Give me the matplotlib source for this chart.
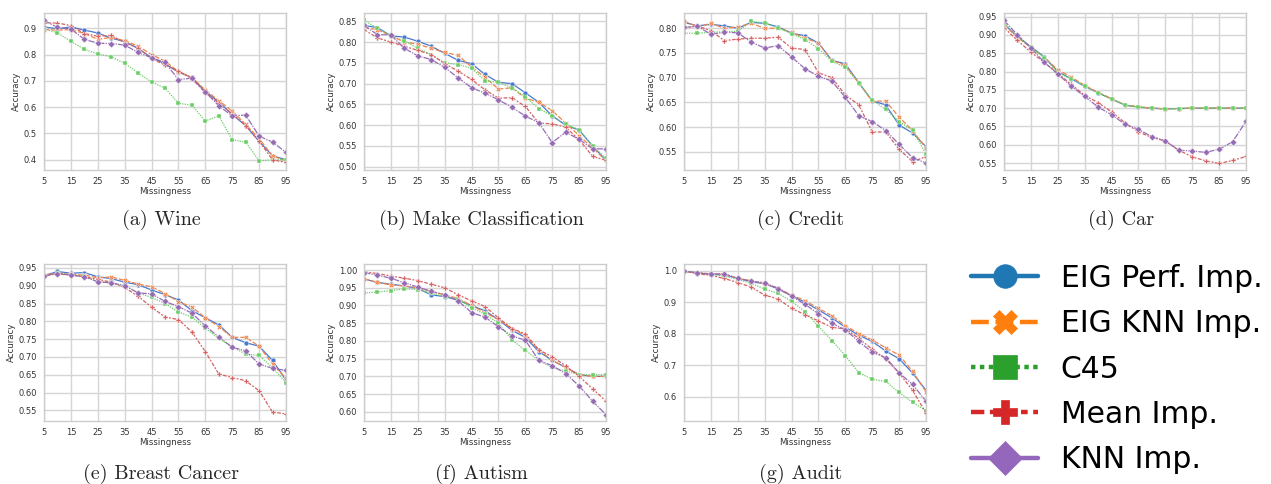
import matplotlib
matplotlib.use("Agg")
import matplotlib.pyplot as plt
from matplotlib.lines import Line2D
import seaborn as sns

sns.set_style("whitegrid")

missingness = [5, 10, 15, 20, 25, 30, 35, 40, 45, 50, 55, 60, 65, 70, 75, 80, 85, 90, 95]
methods = ["EIG Perf. Imp.", "EIG KNN Imp.", "C45", "Mean Imp.", "KNN Imp."]

wine = {
    "EIG Perf. Imp.": [0.905, 0.898, 0.905, 0.893, 0.882, 0.862, 0.850, 0.823, 0.788, 0.765, 0.733, 0.713, 0.660, 0.620, 0.572, 0.530, 0.470, 0.415, 0.400],
    "EIG KNN Imp.": [0.895, 0.893, 0.895, 0.880, 0.858, 0.865, 0.853, 0.832, 0.800, 0.775, 0.735, 0.713, 0.665, 0.625, 0.585, 0.535, 0.480, 0.415, 0.395],
    "C45": [0.897, 0.883, 0.850, 0.820, 0.802, 0.792, 0.767, 0.730, 0.696, 0.672, 0.615, 0.607, 0.547, 0.567, 0.476, 0.467, 0.396, 0.400, 0.400],
    "Mean Imp.": [0.920, 0.920, 0.910, 0.880, 0.870, 0.873, 0.845, 0.825, 0.785, 0.760, 0.738, 0.708, 0.655, 0.615, 0.575, 0.530, 0.470, 0.400, 0.390],
    "KNN Imp.": [0.930, 0.903, 0.897, 0.858, 0.843, 0.842, 0.836, 0.808, 0.788, 0.770, 0.705, 0.710, 0.658, 0.605, 0.567, 0.570, 0.490, 0.467, 0.428],
}
make_classification = {
    "EIG Perf. Imp.": [0.840, 0.835, 0.815, 0.812, 0.802, 0.790, 0.773, 0.756, 0.748, 0.722, 0.703, 0.700, 0.678, 0.655, 0.622, 0.600, 0.588, 0.550, 0.515],
    "EIG KNN Imp.": [0.835, 0.830, 0.815, 0.800, 0.795, 0.785, 0.775, 0.768, 0.740, 0.715, 0.687, 0.690, 0.665, 0.655, 0.635, 0.605, 0.575, 0.545, 0.515],
    "C45": [0.853, 0.833, 0.815, 0.803, 0.785, 0.770, 0.750, 0.746, 0.737, 0.707, 0.703, 0.690, 0.668, 0.640, 0.622, 0.602, 0.589, 0.550, 0.520],
    "Mean Imp.": [0.830, 0.810, 0.800, 0.790, 0.780, 0.770, 0.748, 0.730, 0.710, 0.685, 0.665, 0.666, 0.645, 0.605, 0.603, 0.595, 0.565, 0.525, 0.515],
    "KNN Imp.": [0.840, 0.818, 0.817, 0.785, 0.767, 0.758, 0.739, 0.714, 0.690, 0.677, 0.661, 0.643, 0.622, 0.606, 0.558, 0.583, 0.566, 0.543, 0.543],
}
credit = {
    "EIG Perf. Imp.": [0.812, 0.805, 0.808, 0.805, 0.800, 0.812, 0.810, 0.803, 0.790, 0.785, 0.770, 0.735, 0.728, 0.690, 0.653, 0.645, 0.604, 0.588, 0.560],
    "EIG KNN Imp.": [0.815, 0.803, 0.810, 0.800, 0.803, 0.810, 0.800, 0.800, 0.792, 0.780, 0.770, 0.735, 0.725, 0.690, 0.652, 0.653, 0.620, 0.593, 0.557],
    "C45": [0.790, 0.790, 0.792, 0.793, 0.794, 0.814, 0.811, 0.801, 0.789, 0.777, 0.759, 0.733, 0.721, 0.689, 0.654, 0.636, 0.611, 0.594, 0.545],
    "Mean Imp.": [0.800, 0.805, 0.795, 0.775, 0.778, 0.780, 0.780, 0.782, 0.760, 0.757, 0.710, 0.700, 0.665, 0.645, 0.590, 0.590, 0.555, 0.530, 0.540],
    "KNN Imp.": [0.802, 0.804, 0.788, 0.792, 0.791, 0.772, 0.760, 0.765, 0.742, 0.718, 0.703, 0.693, 0.660, 0.623, 0.611, 0.593, 0.565, 0.538, 0.527],
}
car = {
    "EIG Perf. Imp.": [0.930, 0.895, 0.868, 0.840, 0.800, 0.780, 0.760, 0.742, 0.725, 0.708, 0.703, 0.700, 0.698, 0.699, 0.700, 0.700, 0.700, 0.700, 0.700],
    "EIG KNN Imp.": [0.928, 0.893, 0.866, 0.838, 0.805, 0.785, 0.762, 0.743, 0.726, 0.709, 0.704, 0.700, 0.698, 0.699, 0.700, 0.700, 0.700, 0.700, 0.700],
    "C45": [0.932, 0.897, 0.866, 0.838, 0.797, 0.780, 0.760, 0.742, 0.725, 0.708, 0.703, 0.700, 0.698, 0.699, 0.700, 0.700, 0.700, 0.700, 0.700],
    "Mean Imp.": [0.920, 0.885, 0.853, 0.825, 0.795, 0.765, 0.735, 0.715, 0.690, 0.660, 0.635, 0.620, 0.610, 0.585, 0.567, 0.556, 0.549, 0.557, 0.568],
    "KNN Imp.": [0.940, 0.900, 0.865, 0.825, 0.793, 0.760, 0.732, 0.703, 0.682, 0.656, 0.642, 0.622, 0.611, 0.585, 0.583, 0.579, 0.588, 0.608, 0.664],
}
breast_cancer = {
    "EIG Perf. Imp.": [0.928, 0.940, 0.935, 0.937, 0.925, 0.920, 0.910, 0.903, 0.888, 0.875, 0.860, 0.830, 0.810, 0.790, 0.755, 0.740, 0.730, 0.690, 0.635],
    "EIG KNN Imp.": [0.930, 0.935, 0.932, 0.930, 0.922, 0.925, 0.915, 0.905, 0.897, 0.878, 0.855, 0.840, 0.810, 0.785, 0.755, 0.755, 0.730, 0.680, 0.640],
    "C45": [0.928, 0.935, 0.930, 0.927, 0.912, 0.908, 0.900, 0.880, 0.867, 0.850, 0.826, 0.812, 0.780, 0.752, 0.728, 0.708, 0.704, 0.670, 0.628],
    "Mean Imp.": [0.930, 0.933, 0.930, 0.925, 0.918, 0.910, 0.895, 0.870, 0.840, 0.812, 0.805, 0.770, 0.715, 0.652, 0.642, 0.633, 0.605, 0.545, 0.540],
    "KNN Imp.": [0.927, 0.934, 0.930, 0.925, 0.911, 0.908, 0.900, 0.880, 0.877, 0.856, 0.841, 0.823, 0.787, 0.756, 0.727, 0.717, 0.680, 0.668, 0.662],
}
autism = {
    "EIG Perf. Imp.": [0.975, 0.965, 0.960, 0.955, 0.948, 0.930, 0.925, 0.915, 0.900, 0.885, 0.860, 0.830, 0.810, 0.770, 0.745, 0.725, 0.705, 0.700, 0.700],
    "EIG KNN Imp.": [0.975, 0.965, 0.958, 0.955, 0.950, 0.940, 0.930, 0.920, 0.900, 0.880, 0.860, 0.835, 0.815, 0.775, 0.745, 0.725, 0.705, 0.700, 0.700],
    "C45": [0.935, 0.938, 0.942, 0.947, 0.945, 0.935, 0.925, 0.918, 0.894, 0.875, 0.850, 0.803, 0.773, 0.745, 0.725, 0.715, 0.705, 0.705, 0.705],
    "Mean Imp.": [0.995, 0.990, 0.983, 0.977, 0.970, 0.960, 0.950, 0.930, 0.913, 0.897, 0.865, 0.835, 0.820, 0.775, 0.755, 0.730, 0.700, 0.665, 0.630],
    "KNN Imp.": [0.993, 0.985, 0.977, 0.964, 0.952, 0.940, 0.930, 0.913, 0.880, 0.867, 0.840, 0.814, 0.802, 0.745, 0.730, 0.708, 0.673, 0.630, 0.592],
}
audit = {
    "EIG Perf. Imp.": [0.998, 0.993, 0.988, 0.987, 0.975, 0.965, 0.958, 0.942, 0.920, 0.900, 0.875, 0.850, 0.820, 0.795, 0.775, 0.745, 0.720, 0.675, 0.620],
    "EIG KNN Imp.": [0.998, 0.993, 0.990, 0.988, 0.975, 0.968, 0.958, 0.945, 0.922, 0.905, 0.880, 0.857, 0.825, 0.800, 0.780, 0.755, 0.732, 0.680, 0.615],
    "C45": [0.998, 0.993, 0.988, 0.983, 0.972, 0.960, 0.941, 0.928, 0.902, 0.870, 0.823, 0.778, 0.730, 0.676, 0.655, 0.648, 0.613, 0.582, 0.555],
    "Mean Imp.": [0.998, 0.990, 0.985, 0.975, 0.962, 0.948, 0.922, 0.910, 0.880, 0.860, 0.840, 0.820, 0.815, 0.785, 0.750, 0.720, 0.675, 0.620, 0.548],
    "KNN Imp.": [0.998, 0.993, 0.989, 0.990, 0.976, 0.966, 0.962, 0.943, 0.919, 0.893, 0.863, 0.833, 0.812, 0.775, 0.741, 0.724, 0.675, 0.639, 0.585],
}

panels = [
    ("(a) Wine", wine, (0.361, 0.958), [0.4, 0.5, 0.6, 0.7, 0.8, 0.9]),
    ("(b) Make Classification", make_classification, (0.492, 0.870), [0.50, 0.55, 0.60, 0.65, 0.70, 0.75, 0.80, 0.85]),
    ("(c) Credit", credit, (0.513, 0.831), [0.55, 0.60, 0.65, 0.70, 0.75, 0.80]),
    ("(d) Car", car, (0.531, 0.960), [0.55, 0.60, 0.65, 0.70, 0.75, 0.80, 0.85, 0.90, 0.95]),
    ("(e) Breast Cancer", breast_cancer, (0.520, 0.961), [0.55, 0.60, 0.65, 0.70, 0.75, 0.80, 0.85, 0.90, 0.95]),
    ("(f) Autism", autism, (0.574, 1.017), [0.60, 0.65, 0.70, 0.75, 0.80, 0.85, 0.90, 0.95, 1.00]),
    ("(g) Audit", audit, (0.5225, 1.021), [0.6, 0.7, 0.8, 0.9, 1.0]),
]
xticks = [5, 15, 25, 35, 45, 55, 65, 75, 85, 95]

line_colors = ["#4878d0", "#ee854a", "#6acc64", "#d65f5f", "#956cb4"]
legend_colors = ["#1f77b4", "#ff7f0e", "#2ca02c", "#d62728", "#9467bd"]
dashes = [(None, None), (4, 1.5), (1, 1), (3, 1.25, 1.5, 1.25), (5, 1, 1, 1)]
markers = ["o", "X", "s", "P", "D"]

W, H = 1271, 484
fig = plt.figure(figsize=(W / 100, H / 100), dpi=100)

lefts = [44, 364, 684, 1004]
tops = [13, 264]
ax_w, ax_h = 242, 157

for i, (title, data, ylim, yticks) in enumerate(panels):
    row, col = divmod(i, 4)
    left, top = lefts[col], tops[row]
    ax = fig.add_axes([left / W, 1 - (top + ax_h) / H, ax_w / W, ax_h / H])
    for j, m in enumerate(methods):
        ln, = ax.plot(missingness, data[m], color=line_colors[j], marker=markers[j],
                      markersize=3.5, markeredgecolor="white", markeredgewidth=0.3,
                      linewidth=0.9)
        if dashes[j][0] is not None:
            ln.set_dashes(dashes[j])
    ax.set_xlim(5, 95)
    ax.set_ylim(*ylim)
    ax.set_xticks(xticks)
    ax.set_yticks(yticks)
    ax.tick_params(labelsize=6.0, pad=1.5, colors="#333333")
    ax.set_xlabel("Missingness", fontsize=6.2, labelpad=0.5, color="#333333")
    ax.set_ylabel("Accuracy", fontsize=6.2, labelpad=2, color="#333333")
    for s in ax.spines.values():
        s.set_color("#cccccc")
        s.set_linewidth(1.0)
    ax.grid(True, color="#d5d5d5", linewidth=1.0)
    cy = 220 if row == 0 else 474
    fig.text((left + ax_w / 2 - 4) / W, 1 - cy / H, title, family="cmr10",
             fontsize=14.5, ha="center", va="center")

handles = []
for j, m in enumerate(methods):
    h = Line2D([0], [0], color=legend_colors[j], marker=markers[j], markersize=17,
               linewidth=3.2, markeredgecolor=legend_colors[j], markeredgewidth=0.5)
    if j in (1, 2, 3):
        h.set_dashes(dashes[j])
    handles.append(h)
leg = fig.legend(handles, methods, loc="center left", bbox_to_anchor=(971 / W, 1 - 369 / H),
                 frameon=False, fontsize=21.5, handlelength=2.25, handletextpad=0.75,
                 labelspacing=0.55, borderpad=0, borderaxespad=0)
for t in leg.get_texts():
    t.set_color("black")

fig.savefig("out.png", dpi=100)
